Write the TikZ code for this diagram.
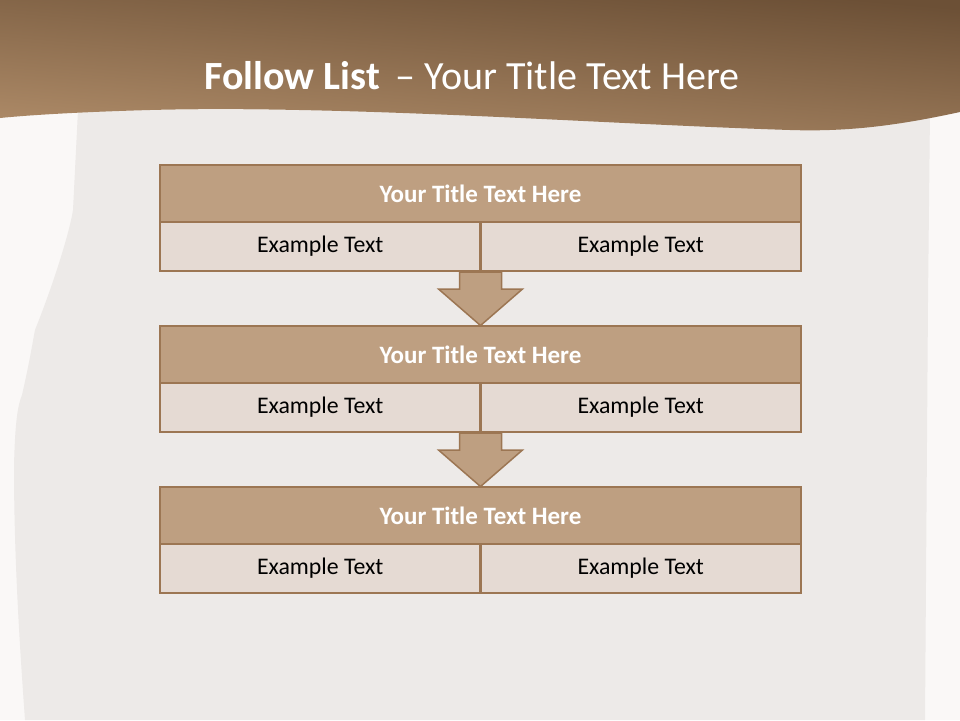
\documentclass[tikz,border=0pt]{standalone}
\usepackage{fontspec}
\setmainfont{Carlito}
\usetikzlibrary{calc}
\definecolor{bgwhite}{HTML}{FAF8F7}
\definecolor{paper}{HTML}{EDEAE8}
\definecolor{bandDark}{HTML}{6C5036}
\definecolor{bandLight}{HTML}{AD8A67}
\definecolor{boxline}{HTML}{9C7653}
\definecolor{titlefill}{HTML}{BE9F81}
\definecolor{subfill}{HTML}{E5DAD3}
\tikzset{
  titlebox/.style={draw=boxline, line width=2.5pt, fill=titlefill, minimum width=641pt, minimum height=57pt, inner sep=0pt, outer sep=0pt, text=white, font=\fontsize{25}{30}\selectfont\bfseries},
  subbox/.style={draw=boxline, line width=2.5pt, fill=subfill, minimum width=320.5pt, minimum height=49pt, inner sep=0pt, outer sep=0pt, text=black, font=\fontsize{23.8}{28}\selectfont},
  flowarrow/.style={draw=boxline, line width=1.5pt, fill=titlefill, line join=miter}
}
\begin{document}
\begin{tikzpicture}[x=1pt,y=-1pt]
\useasboundingbox (0,0) rectangle (960,720);
\fill[bgwhite] (0,0) rectangle (960,720);
% paper sheet
\fill[paper] (78,110) -- (930,110) -- (928,300) -- (925,720) -- (25,720)
  .. controls (20,650) and (14,560) .. (14,467)
  .. controls (15,420) and (18,405) .. (22,395)
  .. controls (30,360) and (33,340) .. (35,330)
  .. controls (55,280) and (70,230) .. (73,210) -- cycle;
% header band
\shade[top color=bandDark, bottom color=bandLight, shading angle=-5]
  (0,0) -- (960,0) -- (960,112)
  .. controls (900,125) and (850,132) .. (790,130)
  .. controls (600,124) and (350,105) .. (150,110)
  .. controls (80,112) and (30,115) .. (0,118) -- cycle;
\node[inner sep=0pt] (title) at (472,76) {\fontsize{40}{48}\selectfont\color{white}\textbf{Follow List}\, – Your Title Text Here};
% rows
\foreach \i/\y in {1/165,2/326,3/487} {
  \node[titlebox, anchor=north west] (t\i) at (160,\y) {Your Title Text Here};
  \node[subbox, anchor=north west] (l\i) at (t\i.south west) {Example Text};
  \node[subbox, anchor=north east] (r\i) at (t\i.south east) {Example Text};
}
% arrows
\foreach \a/\b in {1/2,2/3} {
  \coordinate (s\a) at ($(l\a.south east)+(0,1)$);
  \coordinate (e\a) at (t\b.north);
  \draw[flowarrow] ($(s\a)+(-21,0)$) -- ($(s\a)+(21,0)$) -- ($(s\a)+(21,17)$) -- ($(s\a)+(42,17)$)
    -- ($(e\a)+(0,-0.5)$) -- ($(s\a)+(-42,17)$) -- ($(s\a)+(-21,17)$) -- cycle;
}
\end{tikzpicture}
\end{document}
